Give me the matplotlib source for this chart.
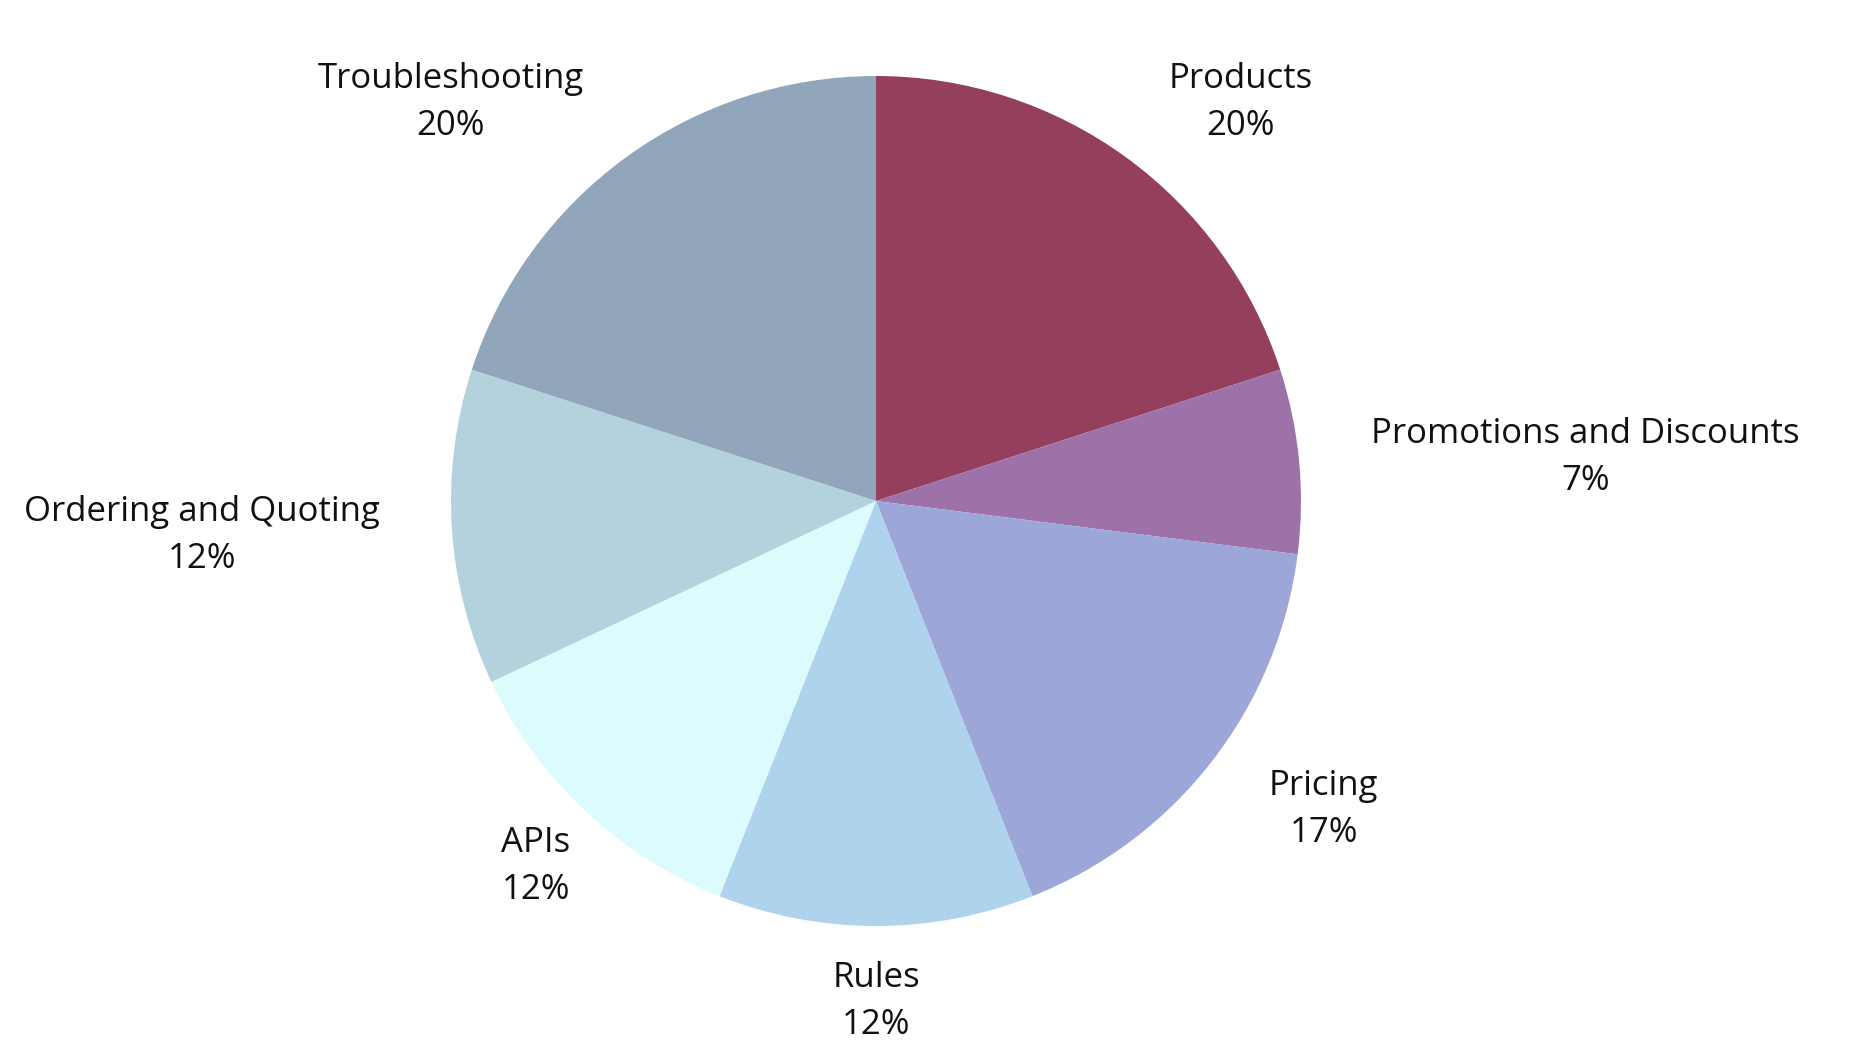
import numpy as np
import matplotlib
matplotlib.use("Agg")
import matplotlib.pyplot as plt

categories = ["Products", "Promotions and Discounts", "Pricing", "Rules", "APIs",
              "Ordering and Quoting", "Troubleshooting"]
shares = [20, 7, 17, 12, 12, 12, 20]
colors = ["#933f5d", "#9d72a9", "#9da6d9", "#afd3ed", "#dbfbfd", "#b4d2dd", "#91a6ba"]

W, H = 1874, 1064
cx, cy, R = 876, 501, 425

fig = plt.figure(figsize=(W / 100, H / 100), dpi=100)
ax = fig.add_axes([0, 0, 1, 1])

wedges, _ = ax.pie(shares, colors=colors, startangle=90, counterclock=False,
                   radius=1, wedgeprops=dict(linewidth=0))
# pie() resets limits/aspect, so place the pie in figure pixels afterwards
ax.set_aspect("auto")
ax.set_xlim(-cx / R, (W - cx) / R)
ax.set_ylim(-(H - cy) / R, cy / R)
ax.axis("off")

total = sum(shares)
for w, name, v in zip(wedges, categories, shares):
    mid = np.deg2rad((w.theta1 + w.theta2) / 2)
    x, y = 1.17 * np.cos(mid), 1.17 * np.sin(mid) - 0.008
    if y < 0 and abs(np.cos(mid)) < 0.75:
        ha = "center"
    else:
        ha = "left" if x > 0 else "right"
    ax.text(x, y, f"{name}\n{v / total * 100:.0f}%", ha=ha, va="center",
            multialignment="center", fontsize=25, family="Open Sans",
            color="#111111", linespacing=1.5)

fig.savefig("out.png", dpi=100)
